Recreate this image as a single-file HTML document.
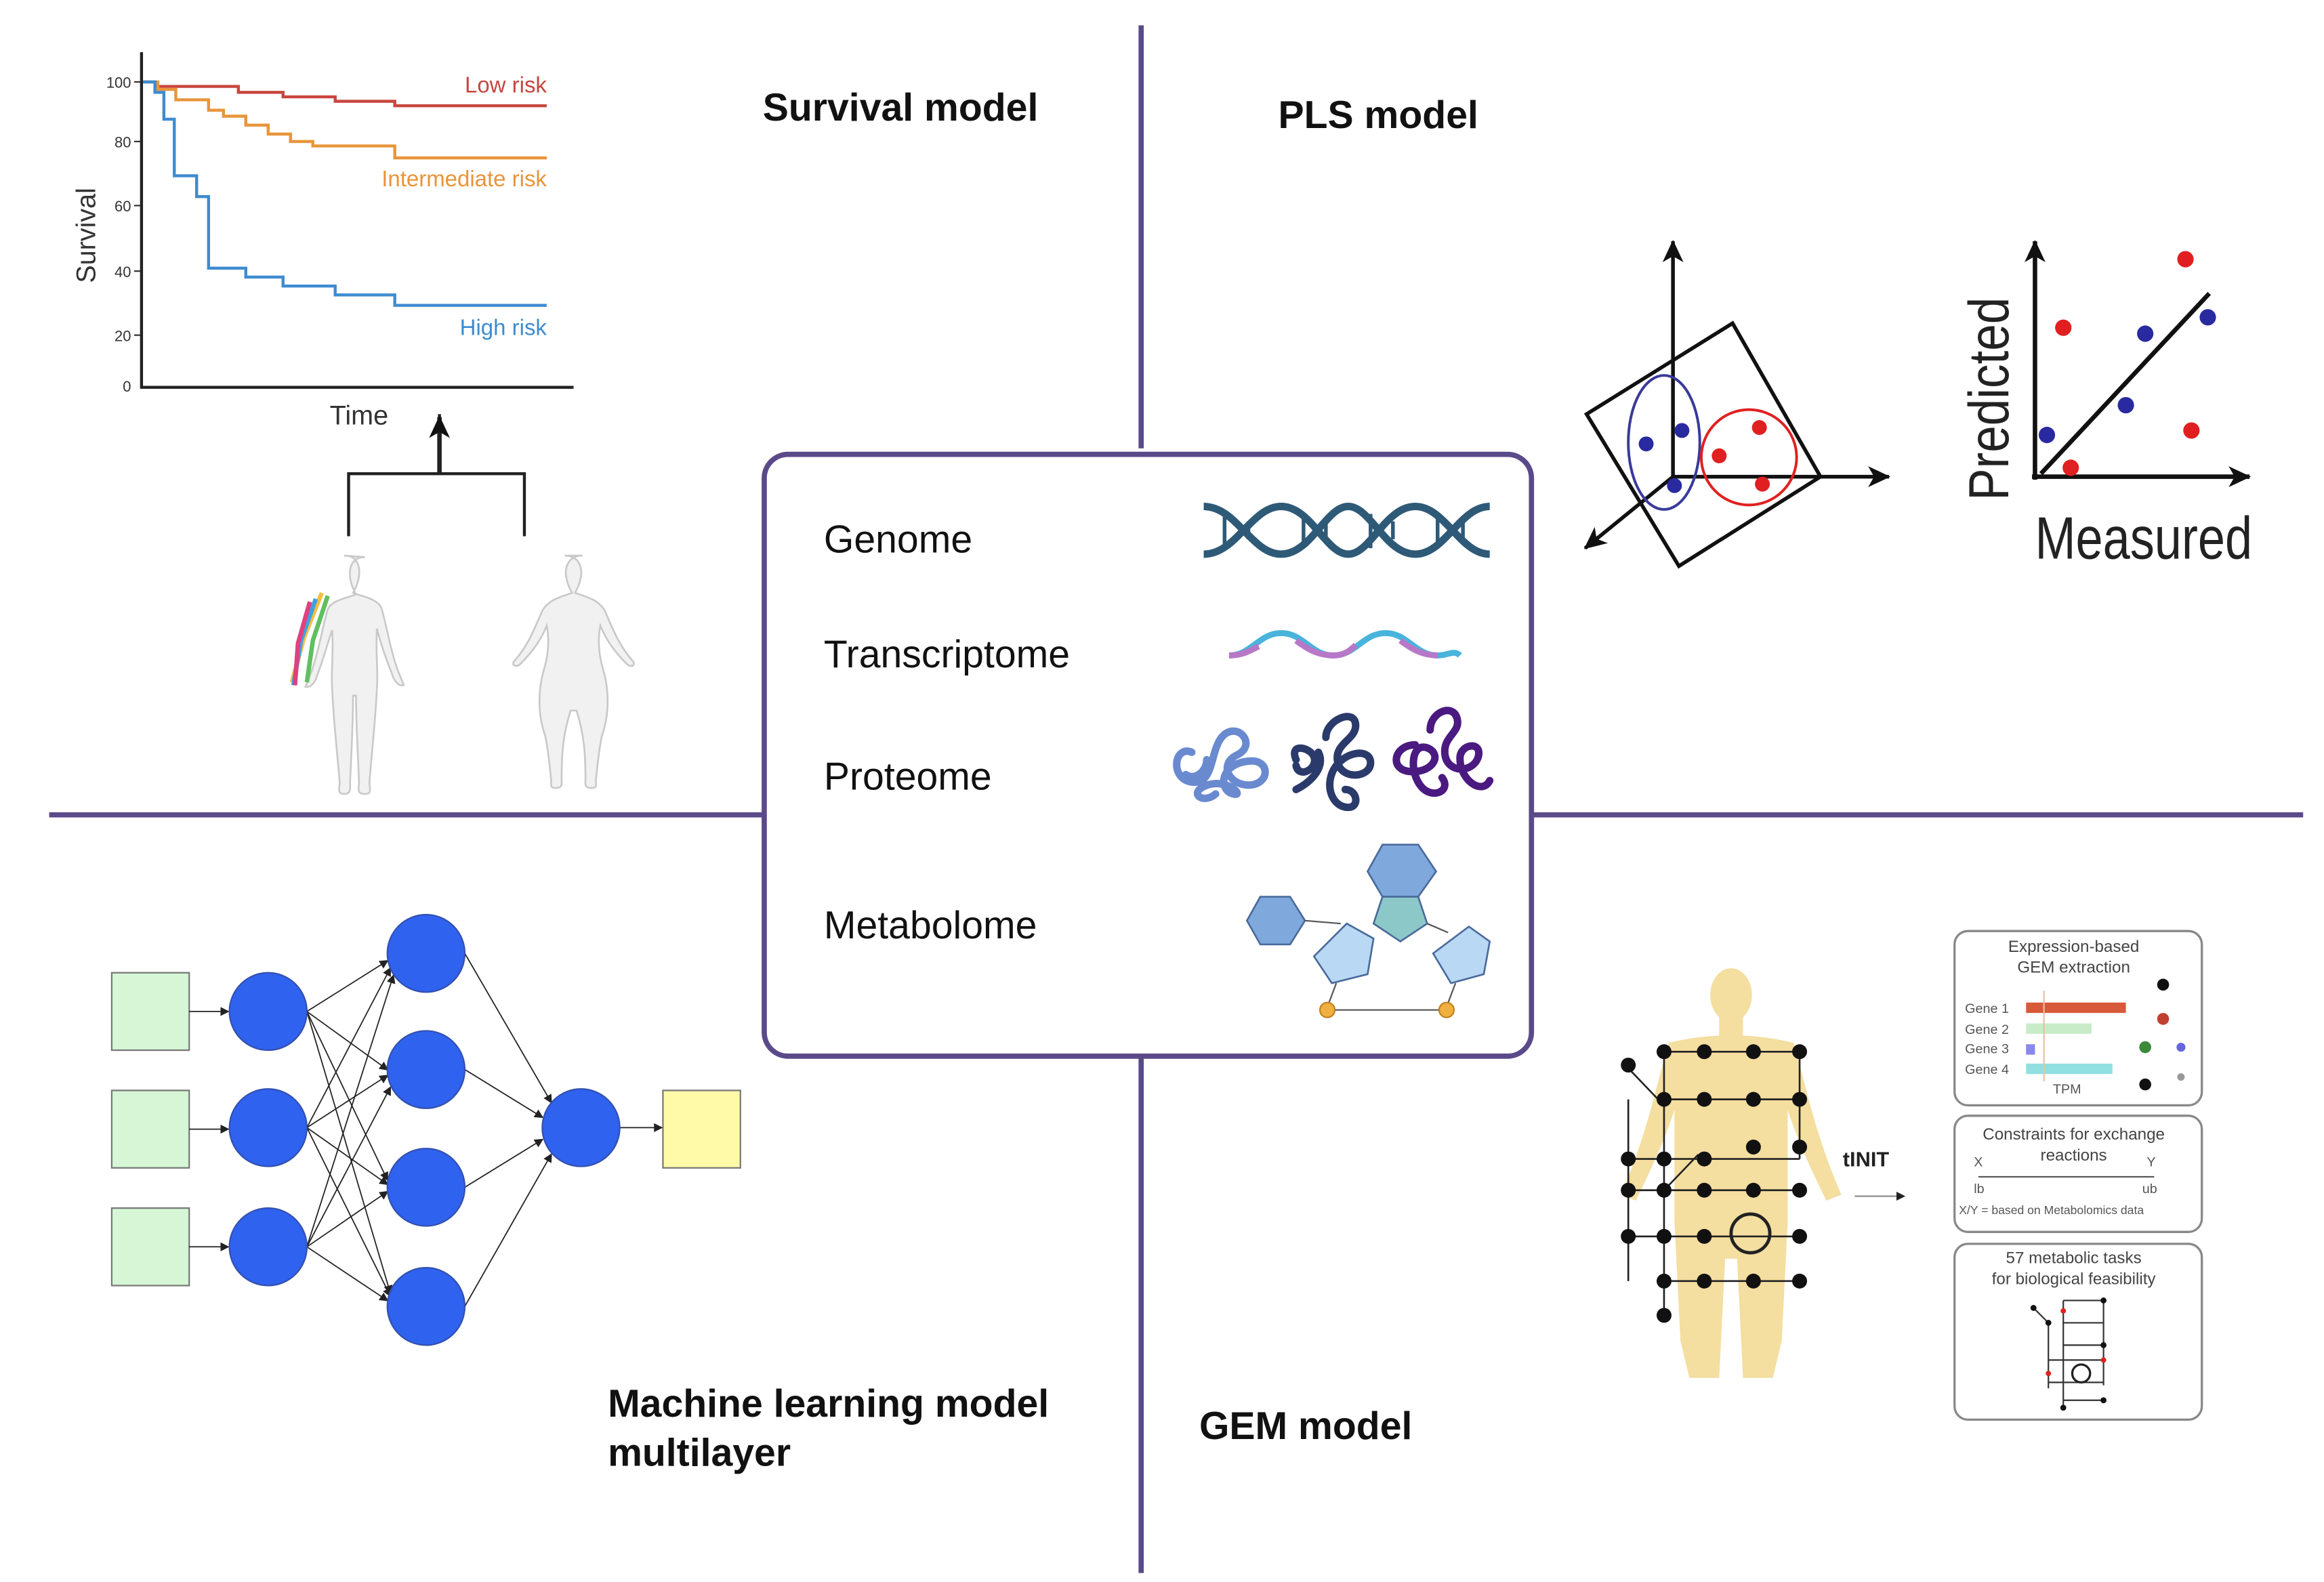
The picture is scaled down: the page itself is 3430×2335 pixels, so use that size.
<!DOCTYPE html>
<html><head><meta charset="utf-8"><style>
html,body{margin:0;padding:0;background:#fff}
svg{display:block}
text{font-family:"Liberation Sans",sans-serif}
</style></head><body>
<svg width="3430" height="2335" viewBox="0 0 1560 1062" preserveAspectRatio="none" xmlns="http://www.w3.org/2000/svg">
<defs>
<marker id="ah" markerWidth="8" markerHeight="8" refX="7" refY="4" orient="auto" markerUnits="userSpaceOnUse"><path d="M0,0 L8,4 L0,8 z" fill="#222"/></marker>
<marker id="ahs" markerWidth="6" markerHeight="6" refX="5" refY="3" orient="auto" markerUnits="userSpaceOnUse"><path d="M0,0 L6,3 L0,6 z" fill="#222"/></marker>
<marker id="ahb" markerWidth="16" markerHeight="16" refX="14" refY="8" orient="auto" markerUnits="userSpaceOnUse"><path d="M0,1 L15,8 L0,15 L4,8 z" fill="#111"/></marker>
</defs>
<rect width="1560" height="1062" fill="#fff"/>

<g stroke="#5b4a8a" stroke-width="3.5" fill="none">
<line x1="766" y1="17" x2="766" y2="301"/>
<line x1="766" y1="709" x2="766" y2="1056"/>
<line x1="33" y1="547" x2="513" y2="547"/>
<line x1="1028" y1="547" x2="1546" y2="547"/>
<rect x="513" y="305" width="515" height="404" rx="16"/>
</g>

<g font-weight="bold" font-size="26" fill="#111">
<text x="512" y="81">Survival model</text>
<text x="858" y="86">PLS model</text>
<text x="408" y="951">Machine learning model</text>
<text x="408" y="984">multilayer</text>
<text x="805" y="966">GEM model</text>
</g>

<g font-size="10" fill="#333" text-anchor="end">
<text x="88" y="59">100</text><text x="88" y="99">80</text><text x="88" y="142">60</text>
<text x="88" y="186">40</text><text x="88" y="229">20</text><text x="88" y="263">0</text>
</g>
<g stroke="#333" stroke-width="1"><line x1="90" y1="55" x2="95" y2="55"/><line x1="90" y1="95" x2="95" y2="95"/><line x1="90" y1="138" x2="95" y2="138"/><line x1="90" y1="182" x2="95" y2="182"/><line x1="90" y1="225" x2="95" y2="225"/></g>
<path d="M95,35 V260 H385" stroke="#222" stroke-width="2" fill="none"/>
<text x="64" y="158" font-size="18" fill="#333" transform="rotate(-90 64 158)" text-anchor="middle">Survival</text>
<text x="241" y="285" font-size="18" fill="#333" text-anchor="middle">Time</text>
<path d="M96,55 H104 V58 H160 V62 H190 V65 H225 V68 H265 V71 H367" stroke="#c8463e" stroke-width="2" fill="none"/>
<path d="M96,55 H106 V60 H118 V67 H140 V74 H150 V78 H165 V84 H180 V90 H195 V95 H210 V98 H265 V106 H367" stroke="#e8953a" stroke-width="2" fill="none"/>
<path d="M96,55 H104 V62 H110 V80 H117 V118 H132 V132 H140 V180 H165 V186 H190 V192 H225 V198 H265 V205 H367" stroke="#3e8bd0" stroke-width="2" fill="none"/>
<text x="367" y="62" font-size="15" fill="#c8463e" text-anchor="end">Low risk</text>
<text x="367" y="125" font-size="15" fill="#e8953a" text-anchor="end">Intermediate risk</text>
<text x="367" y="225" font-size="15" fill="#3e8bd0" text-anchor="end">High risk</text>
<path d="M234,360 V318 H352 V360 M295,318 V278" stroke="#222" stroke-width="2" fill="none"/>
<path d="M295,318 V280" stroke="#222" stroke-width="3" marker-end="url(#ahb)"/>

<g fill="#f1f1f1" stroke="#c9c9c9" stroke-width="1.2">
<path d="M231,373 c8,0 11,6 10,14 c-1,6 -3,9 -4,11 c8,3 16,4 19,10 c4,14 6,28 11,42 l4,10 c-4,1 -7,-4 -8,-8 c-4,-10 -8,-22 -10,-30 c-1,18 1,28 0,40 c-1,22 -3,38 -5,63 c0,5 2,8 -3,8 c-6,0 -4,-4 -4,-8 c-1,-24 -2,-40 -2,-58 l-2,0 c0,18 -1,36 -2,58 c0,4 1,8 -4,8 c-5,0 -3,-4 -3,-8 c-2,-24 -4,-40 -5,-62 c-1,-12 1,-22 0,-40 c-3,8 -6,20 -10,30 c-1,4 -4,9 -8,8 l4,-10 c5,-14 7,-28 11,-42 c3,-6 11,-7 19,-10 c-1,-2 -3,-5 -4,-11 c-1,-8 2,-14 10,-14z"/>
<path d="M379,373 c9,0 12,7 11,14 c-1,6 -3,9 -4,11 c9,3 16,5 20,12 c6,14 10,24 19,34 c2,3 -2,4 -4,2 c-8,-8 -14,-16 -18,-26 c-2,10 -1,20 2,30 c4,14 4,30 -1,44 c-2,10 -3,20 -4,30 c0,3 1,5 -3,5 c-5,0 -4,-3 -4,-6 c0,-18 -1,-30 -6,-46 l-4,0 c-5,16 -6,28 -6,46 c0,3 1,6 -4,6 c-4,0 -3,-2 -3,-5 c-1,-10 -2,-20 -4,-30 c-5,-14 -5,-30 -1,-44 c3,-10 4,-20 2,-30 c-4,10 -10,18 -18,26 c-2,2 -6,1 -4,-2 c9,-10 13,-20 19,-34 c4,-7 11,-9 20,-12 c-1,-2 -3,-5 -4,-11 c-1,-7 2,-14 11,-14z"/>
</g>
<g stroke-width="3" fill="none"><path d="M216,398 l-12,30 l-8,30" stroke="#f0c040"/><path d="M212,402 l-10,28 l-5,30" stroke="#40a0e0"/><path d="M208,404 l-8,28 l-2,28" stroke="#e04080"/><path d="M220,400 l-10,30 l-4,28" stroke="#60c060"/></g>

<g stroke="#111" stroke-width="2.5" fill="none">
<path d="M1065,278 L1163,217 L1222,320 L1127,380 Z"/>
<line x1="1123" y1="330" x2="1123" y2="162" marker-end="url(#ahb)"/>
<line x1="1123" y1="320" x2="1268" y2="320" marker-end="url(#ahb)"/>
<line x1="1123" y1="320" x2="1064" y2="368" marker-end="url(#ahb)"/>
<ellipse cx="1117" cy="297" rx="24" ry="45" stroke="#3a3a9a" stroke-width="1.8"/>
<circle cx="1174" cy="307" r="32" stroke="#e02020" stroke-width="1.8"/>
</g>
<g fill="#2a2aa0"><circle cx="1105" cy="298" r="5"/><circle cx="1129" cy="289" r="5"/><circle cx="1124" cy="326" r="5"/></g>
<g fill="#e02020"><circle cx="1154" cy="306" r="5"/><circle cx="1181" cy="287" r="5"/><circle cx="1183" cy="325" r="5"/></g>
<g stroke="#111" stroke-width="3" fill="none">
<line x1="1366" y1="322" x2="1366" y2="162" marker-end="url(#ahb)"/>
<line x1="1364" y1="320" x2="1510" y2="320" marker-end="url(#ahb)"/>
<line x1="1370" y1="318" x2="1483" y2="197"/>
</g>
<g fill="#e02020"><circle cx="1385" cy="220" r="5.5"/><circle cx="1467" cy="174" r="5.5"/><circle cx="1471" cy="289" r="5.5"/><circle cx="1390" cy="314" r="5.5"/></g>
<g fill="#2a2aa0"><circle cx="1374" cy="292" r="5.5"/><circle cx="1440" cy="224" r="5.5"/><circle cx="1482" cy="213" r="5.5"/><circle cx="1427" cy="272" r="5.5"/></g>
<text x="0" y="0" font-size="38" fill="#222" transform="translate(1348 336) rotate(-90) scale(0.85 1)">Predicted</text>
<text x="1366" y="375" font-size="40" fill="#222" transform="translate(1366 375) scale(0.82 1) translate(-1366 -375)">Measured</text>

<g font-size="26" fill="#111">
<text x="553" y="371">Genome</text>
<text x="553" y="448">Transcriptome</text>
<text x="553" y="530">Proteome</text>
<text x="553" y="630">Metabolome</text>
</g>
<g stroke="#2e5a78" stroke-width="5" fill="none">
<path d="M808,340 C830,340 840,372 860,372 C880,372 890,340 905,340 C920,340 930,372 950,372 C970,372 980,340 1000,340"/>
<path d="M808,372 C830,372 840,340 860,340 C880,340 890,372 905,372 C920,372 930,340 950,340 C970,340 980,372 1000,372"/>
</g>
<g stroke="#2e5a78" stroke-width="2.5"><line x1="822" y1="345" x2="822" y2="368"/><line x1="838" y1="350" x2="838" y2="362"/><line x1="875" y1="345" x2="875" y2="368"/><line x1="890" y1="350" x2="890" y2="362"/><line x1="920" y1="345" x2="920" y2="368"/><line x1="935" y1="350" x2="935" y2="362"/><line x1="965" y1="345" x2="965" y2="368"/><line x1="982" y1="350" x2="982" y2="362"/></g>
<path d="M825,440 C840,440 845,425 860,425 C875,425 880,440 895,440 C910,440 915,425 930,425 C945,425 950,440 965,440 C972,440 976,436 980,440" stroke="#48b4dc" stroke-width="4" fill="none"/>
<path d="M825,440 C835,440 840,436 845,434 M870,430 C878,436 885,440 895,440 C903,440 907,436 910,433 M940,430 C948,436 955,440 965,440" stroke="#b878c8" stroke-width="4" fill="none"/>
<g stroke-width="5" fill="none" stroke-linecap="round">
<path d="M800,505 c-12,-5 -15,18 0,20 c15,2 12,-20 20,-30 c10,-12 25,5 10,12 c-12,6 -5,20 8,20 c15,0 15,-18 0,-16 c-20,2 -20,20 -10,22 c8,2 -5,-12 -20,-5 c-10,5 0,12 8,5 M810,510 c0,8 -8,14 -14,10" stroke="#6a8ad0"/>
<path d="M870,510 c-5,-12 10,-8 12,-2 c3,8 -10,15 -12,6 M890,495 c0,-12 20,-20 20,-8 c0,10 -15,12 -12,25 c3,12 22,10 22,0 c0,-10 -18,-8 -25,5 c-6,12 0,25 10,25 c8,0 6,-12 -2,-12 M885,505 c5,10 -5,20 -15,25" stroke="#2a3a6a"/>
<path d="M960,490 c0,-12 15,-18 18,-8 c3,10 -10,12 -8,25 c2,12 18,12 22,2 c4,-12 -12,-10 -12,0 c0,15 15,25 20,15 M950,500 c-15,0 -18,18 -2,18 c15,0 20,-12 10,-16 c-12,-4 -12,20 -2,28 c8,6 18,0 12,-8" stroke="#4a1a80"/>
</g>
<g stroke="#4a6a9a" stroke-width="1.2">
<polygon points="837,618 846,602 866,602 876,618 866,634 846,634" fill="#7fa8dc"/>
<polygon points="928,567 952,567 964,585 952,602 928,602 918,585" fill="#7fa8dc"/>
<polygon points="928,602 952,602 958,620 940,632 922,620" fill="#8cc8c8"/>
<polygon points="904,620 922,630 918,654 894,660 882,642" fill="#b8d8f4"/>
<polygon points="986,622 1000,632 996,654 974,660 962,640" fill="#b8d8f4"/>
</g>
<g stroke="#555" stroke-width="1" fill="none"><line x1="876" y1="618" x2="900" y2="620"/><line x1="958" y1="620" x2="972" y2="626"/><line x1="897" y1="660" x2="891" y2="676"/><line x1="977" y1="660" x2="971" y2="676"/><line x1="891" y1="678" x2="971" y2="678"/></g>
<circle cx="891" cy="678" r="5" fill="#f0b040" stroke="#c08020"/><circle cx="971" cy="678" r="5" fill="#f0b040" stroke="#c08020"/>

<g fill="#d6f6d6" stroke="#777" stroke-width="1"><rect x="75" y="653" width="52" height="52"/><rect x="75" y="732" width="52" height="52"/><rect x="75" y="811" width="52" height="52"/></g>
<rect x="445" y="732" width="52" height="52" fill="#fffaa8" stroke="#777"/>
<g stroke="#222" stroke-width="0.8" marker-end="url(#ahs)">
<line x1="127" y1="679" x2="153" y2="679"/><line x1="127" y1="758" x2="153" y2="758"/><line x1="127" y1="837" x2="153" y2="837"/>
<line x1="206" y1="679" x2="260" y2="645"/><line x1="206" y1="679" x2="260" y2="718"/><line x1="206" y1="679" x2="260" y2="792"/><line x1="206" y1="679" x2="262" y2="868"/>
<line x1="206" y1="757" x2="262" y2="650"/><line x1="206" y1="757" x2="260" y2="722"/><line x1="206" y1="757" x2="260" y2="795"/><line x1="206" y1="757" x2="262" y2="870"/>
<line x1="206" y1="837" x2="264" y2="655"/><line x1="206" y1="837" x2="262" y2="730"/><line x1="206" y1="837" x2="260" y2="800"/><line x1="206" y1="837" x2="260" y2="873"/>
<line x1="312" y1="640" x2="370" y2="740"/><line x1="312" y1="718" x2="364" y2="750"/><line x1="312" y1="797" x2="364" y2="765"/><line x1="312" y1="877" x2="370" y2="775"/>
<line x1="416" y1="757" x2="444" y2="757"/>
</g>
<g fill="#2f62ee" stroke="#3350b0" stroke-width="1">
<circle cx="180" cy="679" r="26"/><circle cx="180" cy="757" r="26"/><circle cx="180" cy="837" r="26"/>
<circle cx="286" cy="640" r="26"/><circle cx="286" cy="718" r="26"/><circle cx="286" cy="797" r="26"/><circle cx="286" cy="877" r="26"/>
<circle cx="390" cy="757" r="26"/>
</g>

<g fill="#f4dea0">
<ellipse cx="1162" cy="668" rx="14" ry="18"/>
<rect x="1154" y="682" width="16" height="14"/>
<path d="M1120,700 Q1162,690 1204,700 L1212,730 Q1222,770 1236,802 L1226,806 Q1208,770 1200,745 L1200,820 L1196,900 L1190,925 L1170,925 L1166,845 L1158,845 L1154,925 L1134,925 L1128,900 L1124,820 L1124,745 Q1116,770 1098,806 L1088,802 Q1102,770 1112,730 Z"/>
</g>
<g stroke="#222" stroke-width="1.2" fill="none">
<path d="M1117,706 H1208 M1117,706 V883 M1117,738 H1208 M1208,706 V778 M1091,715 L1113,738 M1093,738 V860 M1093,778 H1208 M1093,799 H1208 M1142,830 H1208 M1093,830 H1160 M1117,860 H1208 M1117,799 L1140,775 M1186,830 H1208"/>
</g>
<circle cx="1175" cy="828" r="13" stroke="#222" stroke-width="2.2" fill="none"/>
<g fill="#111">
<circle cx="1093" cy="715" r="5"/><circle cx="1117" cy="706" r="5"/><circle cx="1144" cy="706" r="5"/><circle cx="1177" cy="706" r="5"/><circle cx="1208" cy="706" r="5"/>
<circle cx="1117" cy="738" r="5"/><circle cx="1144" cy="738" r="5"/><circle cx="1177" cy="738" r="5"/><circle cx="1208" cy="738" r="5"/>
<circle cx="1093" cy="778" r="5"/><circle cx="1117" cy="778" r="5"/><circle cx="1144" cy="778" r="5"/><circle cx="1177" cy="770" r="5"/><circle cx="1208" cy="770" r="5"/>
<circle cx="1093" cy="799" r="5"/><circle cx="1117" cy="799" r="5"/><circle cx="1144" cy="799" r="5"/><circle cx="1177" cy="799" r="5"/><circle cx="1208" cy="799" r="5"/>
<circle cx="1093" cy="830" r="5"/><circle cx="1117" cy="830" r="5"/><circle cx="1144" cy="830" r="5"/><circle cx="1208" cy="830" r="5"/>
<circle cx="1117" cy="860" r="5"/><circle cx="1144" cy="860" r="5"/><circle cx="1177" cy="860" r="5"/><circle cx="1208" cy="860" r="5"/>
<circle cx="1117" cy="883" r="5"/>
</g>
<text x="1237" y="783" font-size="14" font-weight="bold" fill="#222">tINIT</text>
<line x1="1245" y1="803" x2="1278" y2="803" stroke="#888" stroke-width="1" marker-end="url(#ahs)"/>

<g fill="#fff" stroke="#888" stroke-width="1.5">
<rect x="1312" y="625" width="166" height="117" rx="9"/>
<rect x="1312" y="749" width="166" height="78" rx="9"/>
<rect x="1312" y="835" width="166" height="118" rx="9"/>
</g>
<g font-size="11" fill="#444" text-anchor="middle">
<text x="1392" y="639">Expression-based</text><text x="1392" y="653">GEM extraction</text>
<text x="1392" y="765">Constraints for exchange</text><text x="1392" y="779">reactions</text>
<text x="1392" y="848">57 metabolic tasks</text><text x="1392" y="862">for biological feasibility</text>
</g>
<g font-size="9" fill="#555">
<text x="1319" y="680">Gene 1</text><text x="1319" y="694">Gene 2</text><text x="1319" y="707">Gene 3</text><text x="1319" y="721">Gene 4</text>
<text x="1378" y="734">TPM</text>
<text x="1325" y="783">X</text><text x="1441" y="783">Y</text><text x="1325" y="801">lb</text><text x="1438" y="801">ub</text>
<text x="1315" y="815" font-size="8">X/Y = based on Metabolomics data</text>
</g>
<rect x="1360" y="673" width="67" height="7" fill="#d85a3a"/>
<rect x="1360" y="687" width="44" height="7" fill="#c8ecc8"/>
<rect x="1360" y="701" width="6" height="7" fill="#8888ee"/>
<rect x="1360" y="714" width="58" height="7" fill="#90e0e0"/>
<line x1="1372" y1="665" x2="1372" y2="726" stroke="#e8c0a0" stroke-width="1"/>
<circle cx="1452" cy="661" r="4" fill="#111"/><circle cx="1452" cy="684" r="4" fill="#c04030"/><circle cx="1440" cy="703" r="4" fill="#3a8a3a"/><circle cx="1464" cy="703" r="3" fill="#6666dd"/><circle cx="1440" cy="728" r="4" fill="#111"/><circle cx="1464" cy="723" r="2.5" fill="#999"/>
<line x1="1328" y1="790" x2="1446" y2="790" stroke="#555" stroke-width="1"/>
<g stroke="#333" stroke-width="1" fill="none"><path d="M1365,878 L1375,888 V932 M1385,873 H1412 V930 M1385,873 V945 M1385,888 H1412 M1385,903 H1412 M1375,913 H1412 M1375,928 H1412 M1385,940 H1412"/></g>
<circle cx="1397" cy="922" r="6" stroke="#222" stroke-width="1.5" fill="#fff"/>
<g fill="#111"><circle cx="1365" cy="878" r="2"/><circle cx="1375" cy="888" r="2"/><circle cx="1385" cy="945" r="2"/><circle cx="1412" cy="873" r="2"/><circle cx="1412" cy="903" r="2"/><circle cx="1412" cy="940" r="2"/></g>
<g fill="#e02020"><circle cx="1385" cy="880" r="1.8"/><circle cx="1412" cy="913" r="1.8"/><circle cx="1375" cy="922" r="1.8"/></g>
</svg>
</body></html>
